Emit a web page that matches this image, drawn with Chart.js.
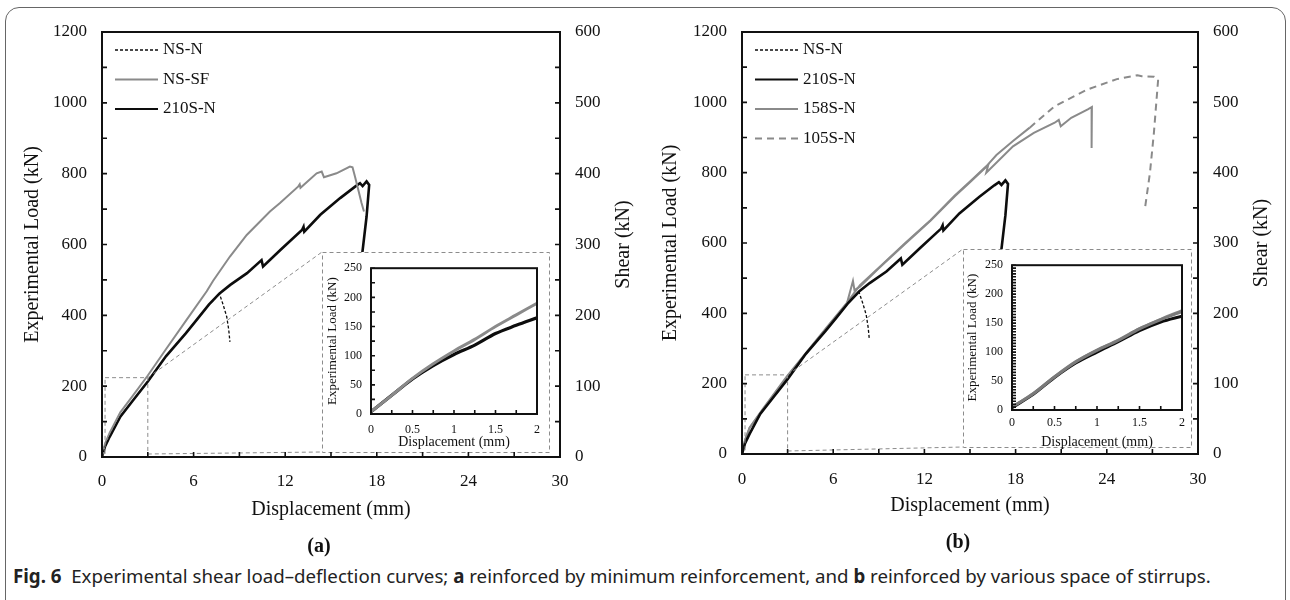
<!DOCTYPE html>
<html>
<head>
<meta charset="utf-8">
<script src="https://cdn.jsdelivr.net/npm/chart.js@4.4.1/dist/chart.umd.min.js"></script>
<style>
  body { margin: 0; width: 1290px; height: 600px; position: relative; overflow: hidden; background: #fff; }
  canvas { position: absolute; }
  #frame { position: absolute; left: 5px; top: 7px; width: 1281px; height: 640px; box-sizing: border-box;
           border: 1.5px solid #666; border-radius: 14px; }
  .tag { position: absolute; font: bold 20px "Liberation Serif", serif; color: #111; transform: translate(-50%, -50%); }
  #caption { position: absolute; left: 13px; top: 563px; line-height: 24px; font: 18.7px "Noto Sans", sans-serif;
             color: #222; white-space: nowrap; }
</style>
</head>
<body>
<div id="frame"></div>
<canvas id="mainA" width="645" height="560" style="left:0;top:0"></canvas>
<canvas id="mainB" width="645" height="560" style="left:640px;top:0"></canvas>
<canvas id="insetA" width="227" height="200" style="left:322px;top:252px"></canvas>
<canvas id="insetB" width="228" height="205" style="left:963px;top:249px"></canvas>
<div class="tag" style="left:319px;top:545px">(a)</div>
<div class="tag" style="left:958px;top:541px">(b)</div>
<div id="caption"><b>Fig. 6</b>&nbsp; Experimental shear load–deflection curves; <b>a</b> reinforced by minimum reinforcement, and <b>b</b> reinforced by various space of stirrups.</div>
<script>
// displacement (mm) / load (kN)
const dispNSN = [0, 0.2, 0.5, 1.2, 2.0, 3.0, 4.2, 5.5, 6.2, 7.0, 7.7, 7.95, 8.17, 8.3, 8.38];
const loadNSN = [0, 30, 57, 114, 158, 213, 285, 350, 387, 430, 460, 428, 396, 360, 325];

const disp210 = [0, 0.2, 0.5, 1.2, 2.0, 3.0, 4.2, 5.5, 6.2, 7.0, 7.7, 8.4, 9.5, 10.45, 10.55, 11.7, 13.1, 13.2, 13.25, 14.3, 15.6, 16.6, 16.9, 17.07, 17.33, 17.5, 17.33, 17.1, 16.95];
const load210 = [0, 30, 57, 114, 158, 213, 285, 350, 387, 430, 462, 486, 519, 556, 538, 585, 641, 650, 636, 684, 731, 764, 773, 765, 778, 768, 679, 594, 540];

const dispSF = [0, 0.2, 0.5, 1.2, 2.0, 3.0, 4.2, 5.55, 6.86, 7.27, 8.38, 9.48, 11.0, 11.66, 12.86, 12.95, 13.0, 14.06, 14.39, 14.54, 15.36, 16.24, 16.41, 16.57, 16.79, 17.0, 17.16];
const loadSF = [0, 38, 68, 126, 172, 230, 305, 388, 468, 497, 566, 627, 693, 717, 764, 770, 760, 801, 806, 790, 801, 820, 818, 792, 754, 717, 693];

const disp158 = [0, 0.2, 0.5, 1.4, 2.94, 4.25, 5.57, 6.9, 7.3, 7.4, 7.76, 9.0, 10.74, 12.4, 14.0, 15.0, 16.2, 16.07, 17.83, 19.2, 20.57, 20.84, 20.97, 21.66, 22.75, 23.02, 23.0];
const load158 = [0, 40, 75, 128, 218, 288, 358, 428, 492, 466, 476, 528, 598, 663, 733, 773, 822, 800, 875, 913, 942, 950, 932, 956, 980, 987, 870];

const disp105 = [0, 0.2, 0.5, 1.4, 2.94, 4.25, 5.57, 6.9, 7.76, 9.0, 10.74, 12.4, 14.0, 15.0, 16.07, 16.74, 17.83, 18.93, 20.57, 22.75, 24.66, 26.02, 26.3, 27.1, 27.38, 27.1, 26.84, 26.5];
const load105 = [0, 40, 75, 130, 220, 290, 360, 430, 480, 530, 600, 665, 735, 775, 818, 850, 890, 928, 989, 1037, 1066, 1077, 1074, 1073, 1066, 914, 800, 695];

// inset, first 2 mm
const insetDisp = [0, 0.25, 0.5, 0.75, 1.0, 1.25, 1.5, 1.75, 2.0];
const insetA210 = [4, 32, 60, 83, 102, 118, 138, 152, 165];
const insetASF = [4, 32, 61, 86, 108, 128, 150, 170, 190];
const insetB210 = [4, 27, 56, 81, 100, 118, 137, 152, 162];
const insetB158 = [5, 28, 57, 83, 103, 120, 140, 156, 170];
const insetB105 = [5, 29, 58, 84, 104, 121, 141, 157, 172];

// zoomed region marked on the main plots (mm, kN)
const zoomRegionA = [0.2, 3, 0, 224];
const zoomRegionB = [0.2, 3, 0, 225];

const SERIF = '"Liberation Serif", "Times New Roman", serif';
const BLACK = '#0d0d0d';
const GREY = '#8a8a8a';

const pts = (xs, ys) => xs.map((x, i) => ({ x, y: ys[i] }));

const panelDecor = {
  id: 'panelDecor',
  afterDatasetsDraw(chart, args, o) {
    if (!o.inset) return;
    const { ctx, scales: { x, y } } = chart;
    const [l, t, r, b] = o.inset;
    ctx.save();
    ctx.fillStyle = '#fff';
    ctx.fillRect(l, t, r - l, b - t);
    ctx.strokeStyle = '#8c8c8c';
    ctx.lineWidth = 1;
    ctx.setLineDash([4, 3]);
    ctx.strokeRect(l + 0.5, t + 0.5, r - l, b - t);
    const [zx0, zx1, zy0, zy1] = o.zoom;
    const px0 = x.getPixelForValue(zx0), px1 = x.getPixelForValue(zx1);
    const py0 = y.getPixelForValue(zy0), py1 = y.getPixelForValue(zy1);
    ctx.strokeRect(px0, py1, px1 - px0, py0 - py1);
    ctx.beginPath();
    ctx.moveTo(px1, py1); ctx.lineTo(l, t);
    ctx.moveTo(px1, py0 - 3); ctx.lineTo(l, b);
    ctx.stroke();
    ctx.restore();
  },
  afterDraw(chart, args, o) {
    const { ctx, chartArea: a, scales } = chart;
    ctx.save();
    ctx.strokeStyle = '#111';
    ctx.lineWidth = 2;
    ctx.strokeRect(a.left, a.top, a.width, a.height);
    ctx.lineWidth = 1.6;
    ctx.beginPath();
    (o.ticks || []).forEach(t => {
      const s = scales[t.axis];
      for (let v = s.min; v <= s.max + 1e-9; v += t.step) {
        const p = s.getPixelForValue(v);
        if (s.isHorizontal()) { ctx.moveTo(p, a.bottom); ctx.lineTo(p, a.bottom - t.len); }
        else if (s.position === 'left') { ctx.moveTo(a.left, p); ctx.lineTo(a.left + t.len, p); }
        else { ctx.moveTo(a.right, p); ctx.lineTo(a.right - t.len, p); }
      }
    });
    ctx.stroke();

    if (o.legend) {
      let yy = a.top + 18;
      ctx.font = '17px ' + SERIF;
      ctx.textBaseline = 'middle';
      ctx.fillStyle = '#111';
      chart.data.datasets.forEach(ds => {
        ctx.strokeStyle = ds.borderColor;
        ctx.lineWidth = Math.min(ds.borderWidth, 2);
        ctx.setLineDash(ds.legendDash || ds.borderDash || []);
        ctx.beginPath();
        ctx.moveTo(a.left + 13, yy);
        ctx.lineTo(a.left + 56, yy);
        ctx.stroke();
        ctx.fillText(ds.label, a.left + 61, yy);
        yy += 29.5;
      });
      ctx.setLineDash([]);
    }

    if (o.rightTitle) {
      ctx.translate(a.right + 64, (a.top + a.bottom) / 2);
      ctx.rotate(-Math.PI / 2);
      ctx.font = '20px ' + SERIF;
      ctx.fillStyle = '#111';
      ctx.textAlign = 'center';
      ctx.textBaseline = 'middle';
      ctx.fillText(o.rightTitle, 0, 0);
    }
    ctx.restore();
  }
};

function lineSet(label, xs, ys, color, width, extra) {
  return Object.assign({
    label, data: pts(xs, ys), borderColor: color, borderWidth: width,
    pointRadius: 0, fill: false, tension: 0
  }, extra || {});
}

function mainChart(id, datasets, o) {
  return new Chart(document.getElementById(id), {
    type: 'line',
    data: { datasets },
    options: {
      responsive: false,
      animation: false,
      layout: { padding: { top: 32, left: 0, right: 0, bottom: 0 } },
      plugins: {
        legend: { display: false },
        tooltip: { enabled: false },
        panelDecor: {
          inset: o.inset, zoom: o.zoom, legend: true, rightTitle: 'Shear (kN)',
          ticks: [{ axis: 'x', step: 3, len: 5 }, { axis: 'y', step: 100, len: 5 }, { axis: 'y2', step: 50, len: 5 }]
        }
      },
      scales: {
        x: {
          type: 'linear', min: 0, max: 30,
          grid: { display: false, drawTicks: false }, border: { display: false },
          ticks: { stepSize: 6, padding: o.xPad, color: '#111', font: { family: SERIF, size: 17 }, maxRotation: 0, callback: v => String(v) },
          title: { display: true, text: 'Displacement (mm)', color: '#111', font: { family: SERIF, size: 20 }, padding: { top: 0, bottom: o.xTitlePad } },
          afterFit: s => { s.height = o.xH; }
        },
        y: {
          type: 'linear', position: 'left', min: 0, max: 1200,
          grid: { display: false, drawTicks: false }, border: { display: false },
          ticks: { stepSize: 200, padding: 15, color: '#111', font: { family: SERIF, size: 17 }, callback: v => String(v) },
          title: { display: true, text: 'Experimental Load (kN)', color: '#111', font: { family: SERIF, size: 20 }, padding: { top: o.yTitlePad, bottom: 0 } },
          afterFit: s => { s.width = 102; }
        },
        y2: {
          type: 'linear', position: 'right', min: 0, max: 600, display: true,
          grid: { display: false, drawTicks: false }, border: { display: false },
          ticks: { stepSize: 100, padding: 15, color: '#111', font: { family: SERIF, size: 17 }, callback: v => String(v) },
          afterFit: s => { s.width = o.y2W; }
        }
      }
    },
    plugins: [panelDecor]
  });
}

function insetChart(id, datasets, o) {
  return new Chart(document.getElementById(id), {
    type: 'line',
    data: { datasets },
    options: {
      responsive: false,
      animation: false,
      layout: { padding: { top: o.top, right: o.right, left: 0, bottom: 0 } },
      elements: { line: { cubicInterpolationMode: 'monotone' } },
      plugins: {
        legend: { display: false },
        tooltip: { enabled: false },
        panelDecor: { ticks: [{ axis: 'x', step: 0.25, len: 4 }, { axis: 'y', step: o.yStep, len: 4 }] }
      },
      scales: {
        x: {
          type: 'linear', min: 0, max: 2,
          grid: { display: false, drawTicks: false }, border: { display: false },
          ticks: { stepSize: 0.5, padding: o.xPad, color: '#111', font: { family: SERIF, size: 12 }, maxRotation: 0, callback: v => String(v) },
          title: { display: true, text: 'Displacement (mm)', color: '#111', font: { family: SERIF, size: 14 }, padding: { top: 0, bottom: o.xTitlePad } },
          afterFit: s => { s.height = o.xH; }
        },
        y: {
          type: 'linear', min: 0, max: 250,
          grid: { display: false, drawTicks: false }, border: { display: false },
          ticks: { stepSize: 50, padding: 9, color: '#111', font: { family: SERIF, size: 12 }, callback: v => String(v) },
          title: { display: true, text: 'Experimental Load (kN)', color: '#111', font: { family: SERIF, size: 13 }, padding: { top: o.yTitlePad, bottom: 0 } },
          afterFit: s => { s.width = 49; }
        }
      }
    },
    plugins: [panelDecor]
  });
}

mainChart('mainA', [
  lineSet('NS-N', dispNSN, loadNSN, BLACK, 1.3, { borderDash: [3, 2] }),
  lineSet('NS-SF', dispSF, loadSF, GREY, 2),
  lineSet('210S-N', disp210, load210, BLACK, 2.6)
], { inset: [322, 252, 549, 452], zoom: zoomRegionA, xPad: 14, xTitlePad: 38, xH: 103, yTitlePad: 21, y2W: 85 });

mainChart('mainB', [
  lineSet('NS-N', dispNSN, loadNSN, BLACK, 1.3, { borderDash: [3, 2] }),
  lineSet('210S-N', disp210, load210, BLACK, 2.6),
  lineSet('158S-N', disp158, load158, GREY, 2),
  lineSet('105S-N', disp105, load105, GREY, 2, {
    legendDash: [7, 5],
    segment: { borderDash: c => (c.p0.parsed.x > 18.8 ? [7, 5] : undefined) }
  })
], { inset: [323, 249, 551, 447], zoom: zoomRegionB, xPad: 15, xTitlePad: 42, xH: 106, yTitlePad: 19, y2W: 87 });

insetChart('insetA', [
  lineSet('NS-SF', insetDisp, insetASF, GREY, 3),
  lineSet('210S-N', insetDisp, insetA210, BLACK, 3.2)
], { top: 9, right: 5, xPad: 9, xTitlePad: 1.6, xH: 38, yTitlePad: 3, yStep: 25 });

insetChart('insetB', [
  lineSet('158S-N', insetDisp, insetB158, '#7a7a7a', 3),
  lineSet('105S-N', insetDisp, insetB105, GREY, 2.5),
  lineSet('210S-N', insetDisp, insetB210, BLACK, 3)
], { top: 7, right: 9, xPad: 6, xTitlePad: 3.6, xH: 44, yTitlePad: 2, yStep: 5 });
</script>
</body>
</html>
